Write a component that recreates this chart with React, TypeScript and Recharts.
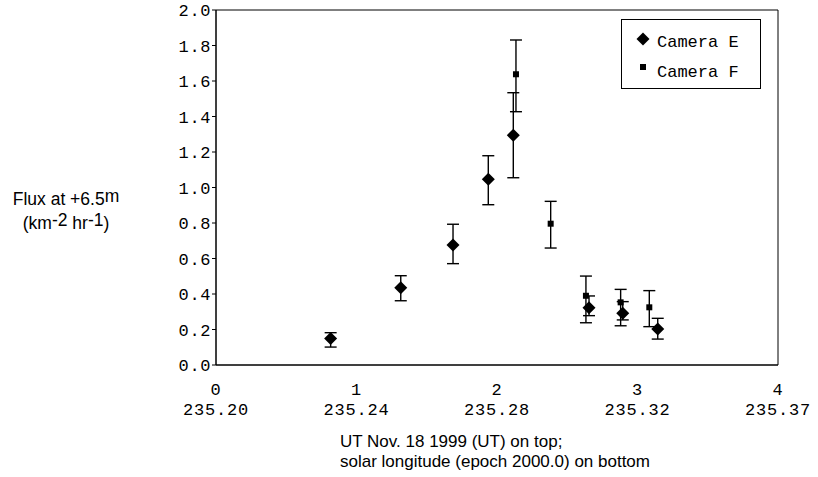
import { ScatterChart, Scatter, XAxis, YAxis, ErrorBar, ReferenceArea, Legend } from 'recharts';

const X_TICKS = [0, 1, 2, 3, 4];
const X_TOP_LABELS = ['0', '1', '2', '3', '4'];
const X_BOTTOM_LABELS = ['235.20', '235.24', '235.28', '235.32', '235.37'];
const Y_TICKS = [0, 0.2, 0.4, 0.6, 0.8, 1.0, 1.2, 1.4, 1.6, 1.8, 2.0];

// Camera E: time (hours UT), flux, lower / upper error bar ends
const CAM_E_X = [0.816, 1.315, 1.687, 1.938, 2.116, 2.655, 2.895, 3.144];
const CAM_E_FLUX = [0.15, 0.435, 0.676, 1.046, 1.294, 0.323, 0.291, 0.203];
const CAM_E_LOW = [0.101, 0.362, 0.571, 0.903, 1.055, 0.278, 0.254, 0.146];
const CAM_E_HIGH = [0.182, 0.503, 0.793, 1.179, 1.534, 0.389, 0.357, 0.263];

// Camera F
const CAM_F_X = [2.135, 2.382, 2.633, 2.88, 3.084];
const CAM_F_FLUX = [1.638, 0.796, 0.39, 0.353, 0.325];
const CAM_F_LOW = [1.427, 0.659, 0.238, 0.221, 0.216];
const CAM_F_HIGH = [1.831, 0.922, 0.501, 0.426, 0.419];

const MONO = '"Liberation Mono", "Courier New", monospace';
const SANS = '"Liberation Sans", Arial, sans-serif';

const toRows = (xs: number[], ys: number[], lo: number[], hi: number[]) =>
  xs.map((x, i) => ({ x, y: ys[i], err: [ys[i] - lo[i], hi[i] - ys[i]] }));

const camE = toRows(CAM_E_X, CAM_E_FLUX, CAM_E_LOW, CAM_E_HIGH);
const camF = toRows(CAM_F_X, CAM_F_FLUX, CAM_F_LOW, CAM_F_HIGH);

const Diamond = ({ cx, cy }: any) => (
  <polygon
    points={`${cx},${cy - 6.5} ${cx + 6.5},${cy} ${cx},${cy + 6.5} ${cx - 6.5},${cy}`}
    fill="#000"
  />
);

const Square = ({ cx, cy }: any) => <rect x={cx - 3} y={cy - 3} width={6} height={6} fill="#000" />;

const XTick = ({ x, y, payload }: any) => {
  const i = X_TICKS.indexOf(payload.value);
  return (
    <g fontFamily={MONO} fontSize={17} fill="#000" letterSpacing={0.8}>
      <text x={x} y={y + 30} textAnchor="middle">{X_TOP_LABELS[i]}</text>
      <text x={x} y={y + 50} textAnchor="middle">{X_BOTTOM_LABELS[i]}</text>
    </g>
  );
};

const YTick = ({ x, y, payload }: any) => (
  <text x={x} y={y} dy="0.36em" textAnchor="end" fontFamily={MONO} fontSize={17} fill="#000" letterSpacing={0.6}>
    {payload.value.toFixed(1)}
  </text>
);

const LegendBox = () => (
  <svg width={140} height={70} style={{ display: 'block' }}>
    <rect x={0.5} y={0.5} width={139} height={69} fill="#fff" stroke="#000" />
    <Diamond cx={22} cy={20} />
    <text x={36} y={22} dy="0.36em" fontFamily={MONO} fontSize={17}>Camera E</text>
    <Square cx={22} cy={48} />
    <text x={36} y={52} dy="0.36em" fontFamily={MONO} fontSize={17}>Camera F</text>
  </svg>
);

const sup = { position: 'relative' as const, top: -3 };

export default function App() {
  return (
    <div style={{ position: 'absolute', left: 0, top: 0, width: 818, height: 477, background: '#fff' }}>
      <ScatterChart width={818} height={477} margin={{ top: 10, right: 40, bottom: 0, left: 0 }}>
        <XAxis
          type="number"
          dataKey="x"
          domain={[0, 4]}
          ticks={X_TICKS}
          height={112}
          tickLine={false}
          tickSize={0}
          tickMargin={0}
          axisLine={{ stroke: '#000' }}
          tick={<XTick />}
          interval={0}
        />
        <YAxis
          type="number"
          dataKey="y"
          domain={[0, 2]}
          ticks={Y_TICKS}
          width={216}
          tickSize={4}
          tickMargin={1}
          tickLine={{ stroke: '#000' }}
          axisLine={{ stroke: '#000' }}
          tick={<YTick />}
          interval={0}
        />
        <ReferenceArea x1={0} x2={4} y1={0} y2={2} fill="none" stroke="#000" strokeWidth={1} />
        <Legend
          layout="horizontal"
          verticalAlign="middle"
          align="center"
          content={() => <LegendBox />}
          wrapperStyle={{ left: 621, top: 19, width: 140, height: 70 }}
        />
        <Scatter name="Camera E" data={camE} shape={<Diamond />} isAnimationActive={false}>
          <ErrorBar dataKey="err" direction="y" width={6} stroke="#000" strokeWidth={1.4} isAnimationActive={false} />
        </Scatter>
        <Scatter name="Camera F" data={camF} shape={<Square />} isAnimationActive={false}>
          <ErrorBar dataKey="err" direction="y" width={6} stroke="#000" strokeWidth={1.4} isAnimationActive={false} />
        </Scatter>
      </ScatterChart>
      <div
        style={{
          position: 'absolute',
          left: 0,
          top: 187,
          width: 132,
          textAlign: 'center',
          fontFamily: SANS,
          fontSize: 17.5,
          lineHeight: '24px',
          color: '#000',
        }}
      >
        <div>
          Flux at +6.5<span style={sup}>m</span>
        </div>
        <div>
          (km<span style={sup}>-2</span> hr<span style={sup}>-1</span>)
        </div>
      </div>
      <div
        style={{
          position: 'absolute',
          left: 340,
          top: 432,
          fontFamily: SANS,
          fontSize: 17,
          lineHeight: '19.5px',
          color: '#000',
          whiteSpace: 'nowrap',
        }}
      >
        <div>UT Nov. 18 1999 (UT) on top;</div>
        <div>solar longitude (epoch 2000.0) on bottom</div>
      </div>
    </div>
  );
}
